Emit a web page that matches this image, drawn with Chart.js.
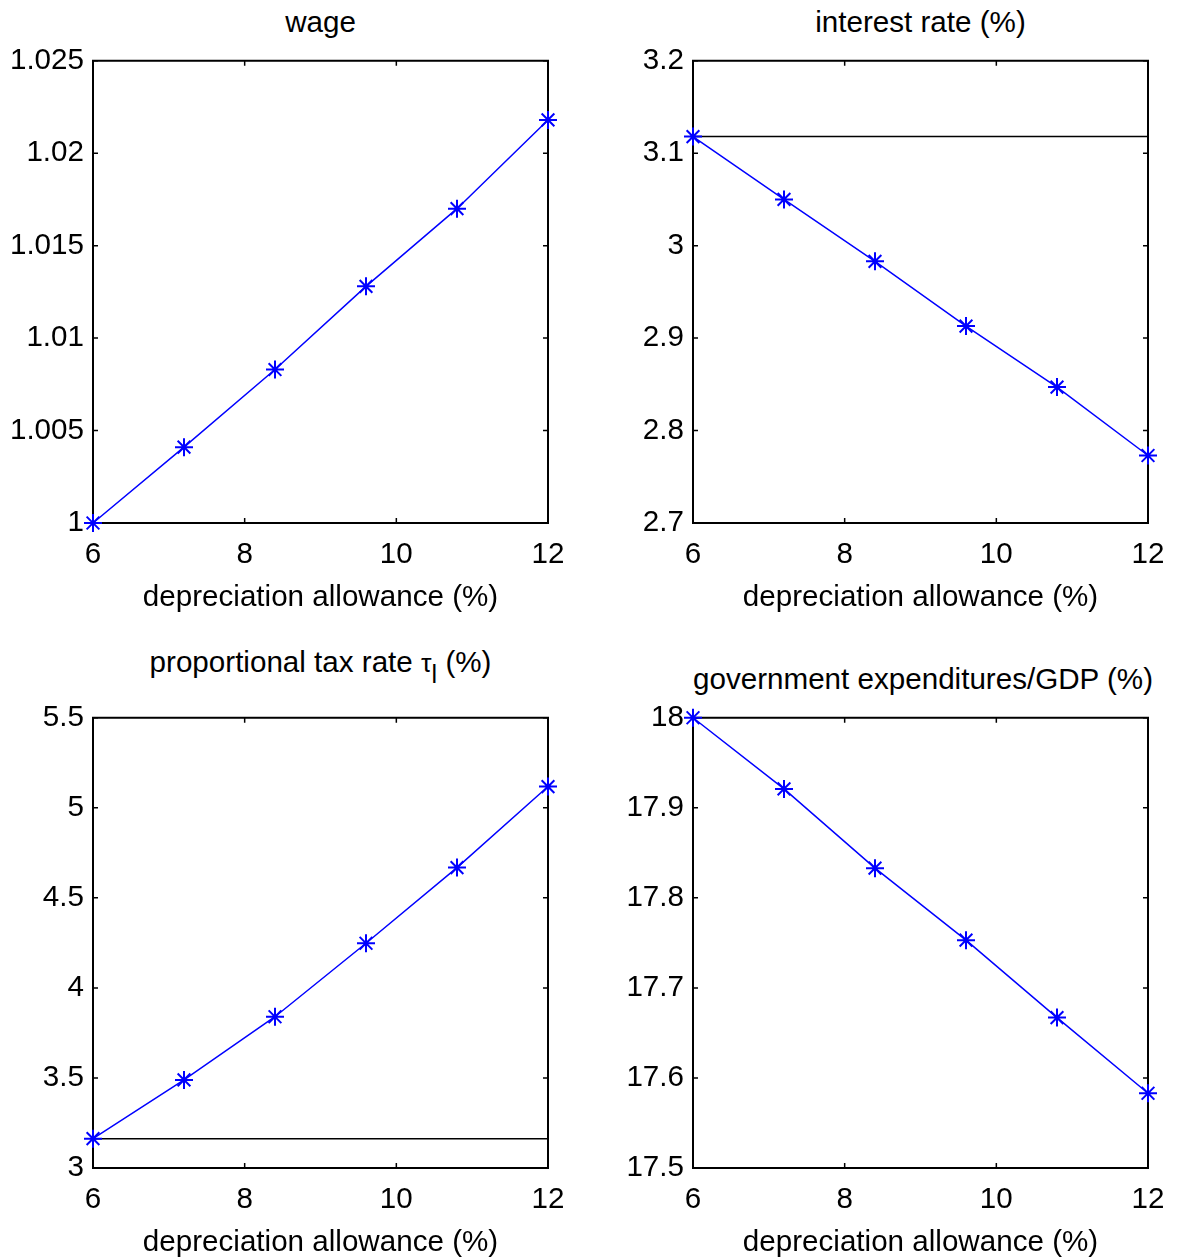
<!DOCTYPE html>
<html lang="en">
<head>
  <meta charset="UTF-8">
  <title>Depreciation allowance effects</title>
  <script src="https://cdn.jsdelivr.net/npm/chart.js"></script>
  <style>
    body {
      margin: 0;
      background: #fff;
      width: 1179px;
      height: 1260px;
      overflow: hidden;
      position: relative;
      font-family: "Liberation Sans", Arial, sans-serif;
    }
    canvas { position: absolute; }
    .ttl {
      position: absolute;
      width: 455px;
      text-align: center;
      font-size: 29.6px;
      line-height: 36px;
      color: #000;
      white-space: nowrap;
    }
    .ttl .tau { font-size: 0.9em; }
    .ttl sub {
      font-size: 0.85em;
      line-height: 0;
      vertical-align: -0.45em;
    }
  </style>
</head>
<body>

  <div class="ttl" style="left:93px;top:4px">wage</div>
  <div class="ttl" style="left:693px;top:4px">interest rate (%)</div>
  <div class="ttl" style="left:93px;top:644px">proportional tax rate <span class="tau">&tau;</span><sub>l</sub> (%)</div>
  <div class="ttl" style="left:693px;top:661px">government expenditures/GDP (%)</div>

  <canvas id="c1" width="590" height="581" style="left:0;top:34px"></canvas>
  <canvas id="c2" width="579" height="581" style="left:600px;top:34px"></canvas>
  <canvas id="c3" width="590" height="569" style="left:0;top:691px"></canvas>
  <canvas id="c4" width="579" height="569" style="left:600px;top:691px"></canvas>

  <script>
    // depreciation allowance (%)
    const allowance = [6, 7.2, 8.4, 9.6, 10.8, 12];
    const xTicks = [6, 8, 10, 12];

    const wage = [1.0000, 1.0041, 1.0083, 1.0128, 1.0170, 1.0218];
    const wageTicks = [1, 1.005, 1.01, 1.015, 1.02, 1.025];

    const interest = [3.118, 3.050, 2.983, 2.913, 2.847, 2.773];
    const interestRef = 3.118;
    const interestTicks = [2.7, 2.8, 2.9, 3, 3.1, 3.2];

    const taxRate = [3.163, 3.489, 3.840, 4.248, 4.668, 5.118];
    const taxRef = 3.163;
    const taxTicks = [3, 3.5, 4, 4.5, 5, 5.5];

    const govExp = [18.000, 17.921, 17.833, 17.753, 17.667, 17.583];
    const govTicks = [17.5, 17.6, 17.7, 17.8, 17.9, 18];

    const font = { family: '"Liberation Sans", Arial, sans-serif', size: 29.6 };

    // MATLAB-like box with inward tick marks
    const boxTicks = {
      id: 'boxTicks',
      beforeDatasetsDraw(chart) {
        const { ctx, chartArea: a, scales: { x, y } } = chart;
        ctx.save();
        ctx.strokeStyle = '#000';
        ctx.lineWidth = 1.5;
        ctx.beginPath();
        x.ticks.forEach(t => {
          const px = x.getPixelForValue(t.value);
          ctx.moveTo(px, a.bottom); ctx.lineTo(px, a.bottom - 5);
          ctx.moveTo(px, a.top); ctx.lineTo(px, a.top + 5);
        });
        y.ticks.forEach(t => {
          const py = y.getPixelForValue(t.value);
          ctx.moveTo(a.left, py); ctx.lineTo(a.left + 5, py);
          ctx.moveTo(a.right, py); ctx.lineTo(a.right - 5, py);
        });
        ctx.stroke();
        ctx.lineWidth = 2;
        ctx.strokeRect(a.left, a.top, a.right - a.left, a.bottom - a.top);
        ctx.restore();
      }
    };

    function panel(id, values, ticks, ref, padRight) {
      const datasets = [{
        data: allowance.map((v, i) => ({ x: v, y: values[i] })),
        borderColor: '#0000ff',
        borderWidth: 1.5,
        pointStyle: 'star',
        pointRadius: 9,
        pointBorderColor: '#0000ff',
        pointBorderWidth: 2,
        clip: false
      }];
      if (ref !== null) {
        datasets.push({
          data: [{ x: allowance[0], y: ref }, { x: allowance[allowance.length - 1], y: ref }],
          borderColor: '#000',
          borderWidth: 1.5,
          pointRadius: 0,
          clip: false
        });
      }
      return new Chart(document.getElementById(id), {
        type: 'line',
        data: { datasets },
        plugins: [boxTicks],
        options: {
          responsive: false,
          animation: false,
          events: [],
          layout: { padding: { left: 0, right: padRight, top: 10, bottom: 0 } },
          plugins: { legend: { display: false }, tooltip: { enabled: false } },
          scales: {
            x: {
              type: 'linear',
              min: xTicks[0],
              max: xTicks[xTicks.length - 1],
              afterBuildTicks: s => { s.ticks = xTicks.map(v => ({ value: v })); },
              afterFit: s => { s.height = 92; },
              grid: { display: false, drawTicks: false },
              border: { display: false },
              ticks: { color: '#000', font, padding: 14, maxRotation: 0, autoSkip: false,
                       callback: v => String(v) },
              title: { display: true, text: 'depreciation allowance (%)', color: '#000', font,
                       padding: { top: 0, bottom: -1 } }
            },
            y: {
              type: 'linear',
              min: ticks[0],
              max: ticks[ticks.length - 1],
              afterBuildTicks: s => { s.ticks = ticks.map(v => ({ value: v })); },
              afterFit: s => { s.width = 93; },
              grid: { display: false, drawTicks: false },
              border: { display: false },
              ticks: { color: '#000', font, padding: 9, autoSkip: false,
                       callback: v => String(v) }
            }
          }
        }
      });
    }

    panel('c1', wage, wageTicks, null, 42);
    panel('c2', interest, interestTicks, interestRef, 31);
    panel('c3', taxRate, taxTicks, taxRef, 42);
    panel('c4', govExp, govTicks, null, 31);
  </script>

</body>
</html>
